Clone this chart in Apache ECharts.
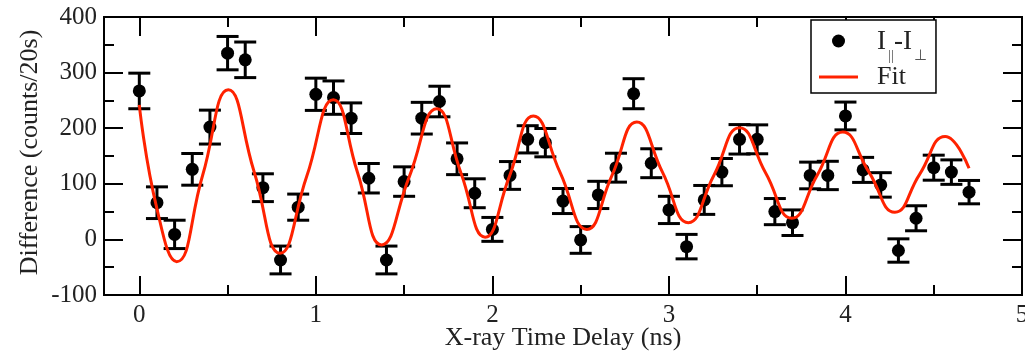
<!DOCTYPE html>
<html>
<head>
<meta charset="utf-8">
<script src="https://cdn.jsdelivr.net/npm/echarts@6/dist/echarts.min.js"></script>
<style>
html,body{margin:0;padding:0;background:#fff;}
#chart{width:1025px;height:357px;}
</style>
</head>
<body>
<div id="chart"></div>
<script>
// Data
const delays = [0,0.1,0.2,0.3,0.4,0.5,0.6,0.7,0.8,0.9,1.0,1.1,1.2,1.3,1.4,1.5,1.6,1.7,1.8,1.9,2.0,2.1,2.2,2.3,2.4,2.5,2.6,2.7,2.8,2.9,3.0,3.1,3.2,3.3,3.4,3.5,3.6,3.7,3.8,3.9,4.0,4.1,4.2,4.3,4.4,4.5,4.6,4.7];
const differences = [267,66,9,126,202,335,323,93,-37,58,261,255,218,110,-37,104,218,248,145,83,18,115,180,174,69,-1,80,129,262,137,53,-13,71,121,180,180,50,30,115,115,222,125,98,-20,38,129,121,85];
const errors = [32,28.5,25.5,28.5,30.5,30,32,25,25,23.5,29,30,27.5,26.5,25,26.5,28.5,27.5,28.5,26,21.5,25,24.5,25.5,22.5,24,24.5,26,27,26,24.5,22,26,24.5,26.5,26,23.5,23,24,25.5,25,22.5,22,21,22.5,22.5,22,21];
const fitX = [0,0.1,0.212,0.358,0.504,0.65,0.797,0.948,1.099,1.236,1.373,1.529,1.685,1.822,1.959,2.096,2.232,2.384,2.535,2.677,2.818,2.964,3.11,3.255,3.40,3.548,3.696,3.84,3.985,4.133,4.28,4.42,4.565,4.7];
const fitY = [242,55,-40,114.5,269,122,-25,113,251,120.5,-10,112.5,235,119.5,4,113,222,120,18,114.5,211,120.5,30,115.5,201,119.5,38,115.5,193,121,49,117,185,128];
const xTickLabels = [0,1,2,3,4,5];
const xMinorTicks = [0.5,1.5,2.5,3.5,4.5];
const seriesNames = ['I||-I⊥','Fit'];

const serif = 'Liberation Serif';
const points = delays.map((x,i)=>[x, differences[i]]);
const bars = delays.map((x,i)=>[x, differences[i]-errors[i], differences[i]+errors[i]]);
const fit = fitX.map((x,i)=>[x, fitY[i]]);

const chart = echarts.init(document.getElementById('chart'), null, {renderer:'canvas'});
const axLine = {show:true, onZero:false, lineStyle:{color:'#000', width:2}};
const baseX = {type:'value', min:-0.2, max:5, splitLine:{show:false}, axisLine:axLine};
const option = {
  animation:false,
  backgroundColor:'#fff',
  grid:{left:104, right:3, top:17, bottom:62, containLabel:false, outerBoundsMode:'none'},
  legend:{
    orient:'vertical', left:811, top:20,
    data:[{name:seriesNames[0], icon:'circle'}, {name:seriesNames[1], icon:'path://M0 0L130 0L130 10L0 10Z'}],
    itemWidth:39, itemHeight:13, itemGap:0,
    padding:[6,9,3,8],
    borderColor:'#000', borderWidth:1.5, borderRadius:0,
    backgroundColor:'#fff',
    formatter:function(name){
      if(name===seriesNames[0]) return '{b|I}{s|||}{b|-I}{s|⊥}';
      return '{f|Fit}';
    },
    textStyle:{
      fontFamily:serif, fontSize:26, color:'#222', padding:[0,0,0,14],
      rich:{
        b:{fontFamily:serif, fontSize:27, color:'#222', lineHeight:30, verticalAlign:'top', padding:[2,0,0,0]},
        s:{fontFamily:serif, fontSize:15, color:'#555', lineHeight:15, verticalAlign:'top', padding:[23,0,0,2]},
        f:{fontFamily:serif, fontSize:26, color:'#222', lineHeight:30}
      }
    }
  },
  xAxis:[
    Object.assign({}, baseX, {
      position:'bottom',
      name:'X-ray Time Delay (ns)', nameLocation:'middle', nameGap:30, nameMoveOverlap:false,
      nameTextStyle:{fontFamily:serif, fontSize:26, color:'#222', lineHeight:26},
      axisTick:{show:true, inside:true, length:19, lineStyle:{color:'#000', width:2}, customValues:xTickLabels},
      axisLabel:{show:true, margin:8, fontFamily:serif, fontSize:25, color:'#222', lineHeight:25, customValues:xTickLabels}
    }),
    Object.assign({}, baseX, {
      position:'bottom',
      axisTick:{show:true, inside:true, length:10, lineStyle:{color:'#000', width:2}, customValues:xMinorTicks},
      axisLabel:{show:false}
    }),
    Object.assign({}, baseX, {
      position:'top',
      axisTick:{show:true, inside:true, length:19, lineStyle:{color:'#000', width:2}, customValues:xTickLabels},
      axisLabel:{show:false}
    }),
    Object.assign({}, baseX, {
      position:'top',
      axisTick:{show:true, inside:true, length:10, lineStyle:{color:'#000', width:2}, customValues:xMinorTicks},
      axisLabel:{show:false}
    })
  ],
  yAxis:[
    {
      type:'value', min:-100, max:400, interval:100, position:'left',
      name:'Difference (counts/20s)', nameLocation:'middle', nameGap:61, nameMoveOverlap:false,
      nameTextStyle:{fontFamily:serif, fontSize:26, color:'#222', lineHeight:26, padding:[0,0,0,7]},
      axisLine:axLine, splitLine:{show:false},
      axisTick:{show:true, inside:true, length:19, lineStyle:{color:'#000', width:2}},
      minorTick:{show:true, splitNumber:2, length:10, lineStyle:{color:'#000', width:2}},
      axisLabel:{margin:7, fontFamily:serif, fontSize:25, color:'#222'}
    },
    {
      type:'value', min:-100, max:400, interval:100, position:'right',
      axisLine:axLine, splitLine:{show:false},
      axisTick:{show:true, inside:true, length:19, lineStyle:{color:'#000', width:2}},
      minorTick:{show:true, splitNumber:2, length:10, lineStyle:{color:'#000', width:2}},
      axisLabel:{show:false}
    }
  ],
  series:[
    {
      type:'custom', name:'errorbars', xAxisIndex:0, yAxisIndex:0, z:2,
      data:bars,
      encode:{x:0, y:[1,2]},
      renderItem:function(params, api){
        const x = api.value(0);
        const lo = api.coord([x, api.value(1)]);
        const hi = api.coord([x, api.value(2)]);
        const hw = 11;
        const st = {stroke:'#000', lineWidth:3};
        return {type:'group', children:[
          {type:'line', shape:{x1:lo[0], y1:lo[1], x2:hi[0], y2:hi[1]}, style:st},
          {type:'line', shape:{x1:lo[0]-hw, y1:lo[1], x2:lo[0]+hw, y2:lo[1]}, style:st},
          {type:'line', shape:{x1:hi[0]-hw, y1:hi[1], x2:hi[0]+hw, y2:hi[1]}, style:st}
        ]};
      }
    },
    {
      type:'scatter', name:seriesNames[0], xAxisIndex:0, yAxisIndex:0, z:3,
      data:points, symbol:'circle', symbolSize:13,
      itemStyle:{color:'#000', opacity:1}
    },
    {
      type:'line', name:seriesNames[1], xAxisIndex:0, yAxisIndex:0, z:4,
      data:fit, smooth:0.5, symbol:'none', showSymbol:false,
      lineStyle:{color:'#ff2200', width:3},
      itemStyle:{color:'#ff2200'}
    }
  ]
};
chart.setOption(option);
</script>
</body>
</html>
